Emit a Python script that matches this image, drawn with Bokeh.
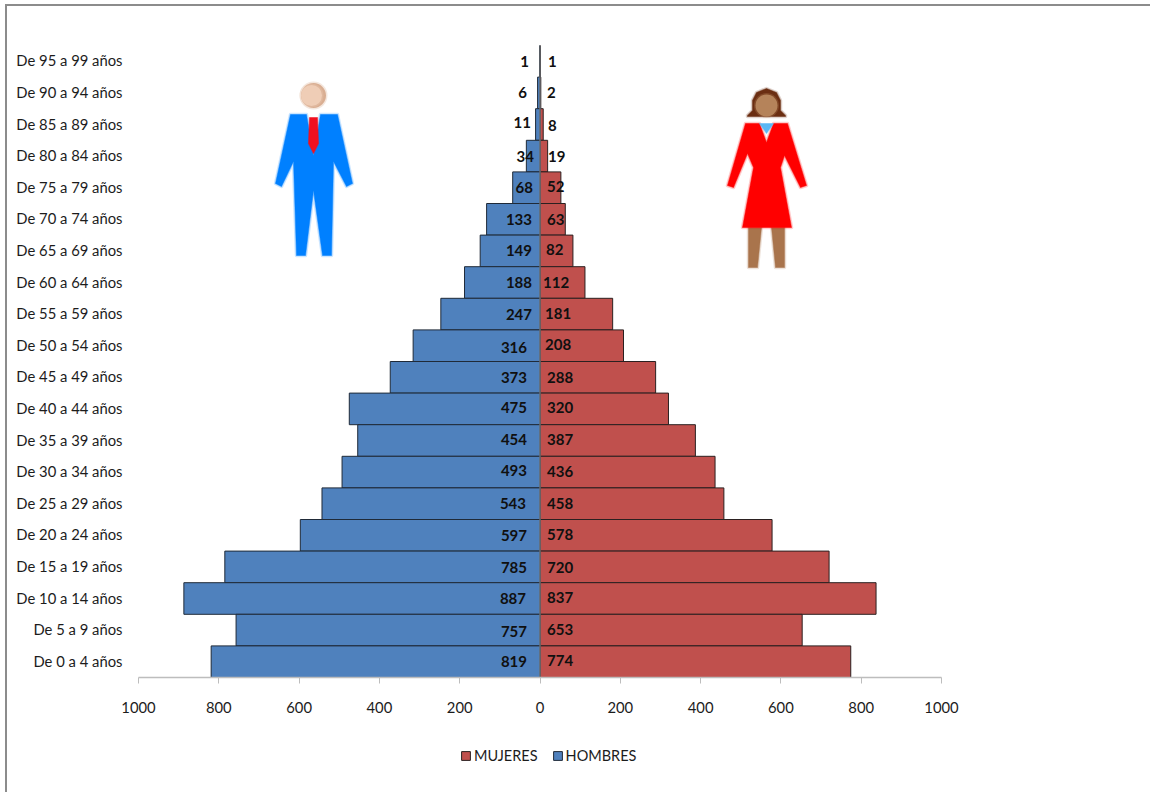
from bokeh.plotting import figure
from bokeh.models import (ColumnDataSource, Range1d, FixedTicker, Legend, LegendItem)
from bokeh.core.properties import value
from bokeh.embed import file_html
from bokeh.resources import INLINE

categorias = ["De 95 a 99 años", "De 90 a 94 años", "De 85 a 89 años", "De 80 a 84 años", "De 75 a 79 años",
              "De 70 a 74 años", "De 65 a 69 años", "De 60 a 64 años", "De 55 a 59 años", "De 50 a 54 años",
              "De 45 a 49 años", "De 40 a 44 años", "De 35 a 39 años", "De 30 a 34 años", "De 25 a 29 años",
              "De 20 a 24 años", "De 15 a 19 años", "De 10 a 14 años", "De 5 a 9 años", "De 0 a 4 años"]
hombres = [1, 6, 11, 34, 68, 133, 149, 188, 247, 316, 373, 475, 454, 493, 543, 597, 785, 887, 757, 819]
mujeres = [1, 2, 8, 19, 52, 63, 82, 112, 181, 208, 288, 320, 387, 436, 458, 578, 720, 837, 653, 774]
ticks = [-1000, -800, -600, -400, -200, 0, 200, 400, 600, 800, 1000]
tick_labels = ["1000", "800", "600", "400", "200", "0", "200", "400", "600", "800", "1000"]

# label nudges seen in the reference (screen px)
dx_h = [-11, -13, -9, -6, -7, -8, -8, -8, -8, -13, -13, -13, -13, -13, -14, -13, -13, -14, -13, -13]
dy_h = [0, 0, -2, 0, 0, 0, 0, 0, 0, 2, 0, -1, -1, -2, 0, 0, 1, 0, 1, 0]
dx_m = [8, 7, 8, 8, 7, 7, 6, 3, 5, 5, 7, 7, 7, 7, 7, 7, 7, 7, 7, 7]
dy_m = [0, 0, 1, 0, -1, 0, -1, 0, -1, -1, 0, -1, -1, -1, 0, -1, 1, -1, -1, -1]

FONT = "Lato"
TXT = "#1c1c1c"
n = len(categorias)
pos = [i + 0.5 for i in range(n)]
label_pos = [v - 0.03 for v in pos]

# the figure's box sits at (5, 4), its 2px border draws the picture's frame; the canvas starts at (7, 6).
# The plot frame runs past the bars on all sides so that axis labels, category labels and legend,
# which all live inside it, are not clipped.
ROW = 31.6
FRAME_H = 725
FRAME_L, FRAME_R = 10, 1140
ZERO_PX = 539.5
PX_PER_UNIT = 803 / 2000
p = figure(width=1145, height=788, output_backend="svg", toolbar_location=None, y_axis_location=None,
           x_range=Range1d((FRAME_L - ZERO_PX) / PX_PER_UNIT, (FRAME_R - ZERO_PX) / PX_PER_UNIT),
           y_range=Range1d(FRAME_H / ROW, 0),
           frame_width=FRAME_R - FRAME_L, frame_height=FRAME_H, min_border_left=3, min_border_right=10,
           min_border_top=39, min_border_bottom=22, outline_line_color=None)
p.styles = {"position": "absolute", "left": "5px", "top": "4px",
            "border-left": "2px solid #8c8c8c", "border-top": "2px solid #8c8c8c"}

# pixel space of the frame, for the decorative figures and the category column
p.extra_x_ranges["px"] = Range1d(FRAME_L, FRAME_R)
p.extra_y_ranges["px"] = Range1d(45 + FRAME_H, 45)

src_h = ColumnDataSource(dict(y=pos, right=[-v for v in hombres], txt=[str(v) for v in hombres], dx=dx_h, dy=dy_h))
src_m = ColumnDataSource(dict(y=pos, right=mujeres, txt=[str(v) for v in mujeres], dx=dx_m, dy=dy_m))
src_c = ColumnDataSource(dict(y=label_pos, x=[122] * n, txt=categorias))

bar_m = p.hbar(y="y", left=0, right="right", height=1, source=src_m, fill_color="#C0504D", line_color="#2b2020", line_width=1)
bar_h = p.hbar(y="y", left=0, right="right", height=1, source=src_h, fill_color="#4F81BD", line_color="#1f2a38", line_width=1)
p.segment(x0=[0], y0=[0], x1=[0], y1=[n], line_color="#8a8a8a", line_width=1)

p.text(x=0, y="y", text="txt", source=src_h, x_offset="dx", y_offset="dy", text_align="right", text_baseline="middle",
       text_font=value(FONT), text_font_size="15px", text_font_style="bold", text_color="#101010")
p.text(x=0, y="y", text="txt", source=src_m, x_offset="dx", y_offset="dy", text_align="left", text_baseline="middle",
       text_font=value(FONT), text_font_size="15px", text_font_style="bold", text_color="#101010")
p.text(x="x", y="y", text="txt", source=src_c, x_range_name="px", text_align="right", text_baseline="middle",
       text_font=value(FONT), text_font_size="14.8px", text_color=TXT)

p.grid.visible = False

xa = p.xaxis[0]
xa.fixed_location = n
xa.bounds = (ticks[0], ticks[-1])
xa.ticker = FixedTicker(ticks=ticks)
xa.major_label_overrides = dict(zip(ticks, tick_labels))
xa.axis_line_color = "#bdbdbd"
xa.axis_line_width = 1.5
xa.major_tick_line_color = "#bdbdbd"
xa.major_tick_in = 0
xa.major_tick_out = 6
xa.minor_tick_line_color = None
xa.major_label_standoff = 18
xa.major_label_text_font = FONT
xa.major_label_text_font_size = "14.8px"
xa.major_label_text_color = TXT


def shape(xs, ys, color, soft=True):
    kw = dict(x_range_name="px", y_range_name="px")
    if soft:
        p.patch(xs, ys, fill_alpha=0, line_color=color, line_alpha=0.2, line_width=3.5, line_join="round", **kw)
    p.patch(xs, ys, fill_color=color, line_color=color, line_alpha=0.5, line_width=1.2, line_join="round", **kw)


def disc(x, y, r, color):
    kw = dict(x_range_name="px", y_range_name="px")
    p.scatter([x], [y], size=2 * r + 3, fill_color=color, line_color=None, fill_alpha=0.3, **kw)
    p.scatter([x], [y], size=2 * r, fill_color=color, line_color=None, **kw)


# man
disc(313, 95, 12.5, "#D9AE92")
disc(311, 95, 10.5, "#EFCDB6")
shape([290, 306, 313, 320, 337, 352, 346, 333, 331, 322, 313, 305, 296, 293, 281, 275],
      [114, 114, 155, 114, 114, 183, 186, 161, 255, 255, 190, 255, 255, 161, 186, 183], "#0080FF")
shape([309, 317, 318, 313, 308], [117, 117, 143, 153, 143], "#F01020", soft=False)

# woman
shape([748, 761, 757, 748], [227, 227, 267, 267], "#A9744C")
shape([771, 784, 784, 775], [227, 227, 267, 267], "#A9744C")
shape([747, 752, 752, 756, 766, 776, 780, 780, 785, 785, 747], [115, 110, 100, 92, 88, 92, 100, 110, 115, 116, 116], "#6B2E12")
disc(766, 105, 11, "#B5835A")
shape([745, 759, 766, 773, 787, 806, 800, 784, 780, 791, 742, 753, 747, 733, 727],
      [123, 123, 142, 123, 123, 185, 187, 155, 167, 227, 227, 167, 153, 187, 185], "#FF0000")
shape([759, 773, 766], [123, 123, 133], "#5BB8F5", soft=False)

legend = Legend(items=[LegendItem(label="MUJERES", renderers=[bar_m]), LegendItem(label="HOMBRES", renderers=[bar_h])],
                orientation="horizontal", location=(450, 6), background_fill_alpha=0, border_line_color=None,
                label_text_font=FONT, label_text_font_size="14.5px", label_text_color=TXT,
                glyph_width=11, glyph_height=11, spacing=14, label_standoff=3, margin=0, padding=0)
p.add_layout(legend, "center")

open("out.html", "w").write(file_html(p, INLINE))
